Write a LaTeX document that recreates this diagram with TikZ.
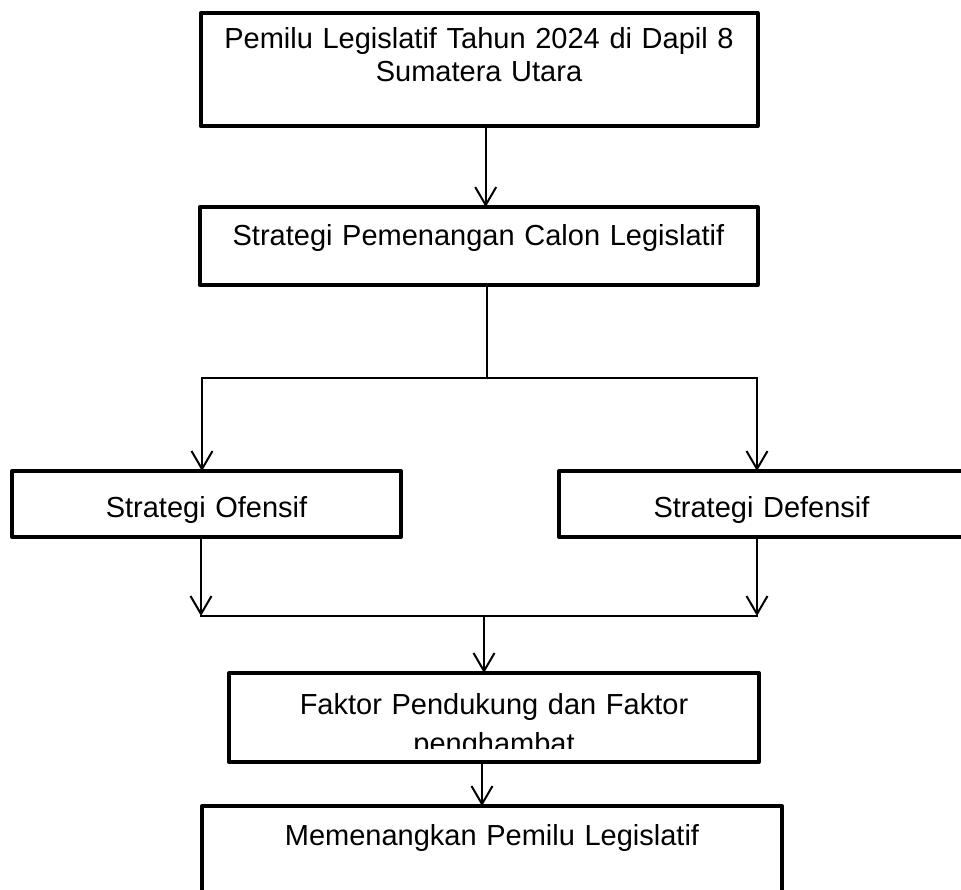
\documentclass[tikz,border=0pt]{standalone}
\usepackage{fontspec}
\setmainfont{Liberation Sans}
\usetikzlibrary{arrows.meta}

\tikzset{
  boxline/.style={draw, line width=4pt, line join=round},
  box/.style={boxline, rectangle, inner sep=0pt, outer sep=0pt, anchor=north, align=center,
    font=\fontsize{29}{33}\selectfont},
  flow/.style={line width=2pt},
  arr/.style={flow, -{Straight Barb[length=18pt,width=21pt]}},
}

\begin{document}
\begin{tikzpicture}[x=1pt, y=-1pt]
          \useasboundingbox (0,0) rectangle (961,889);
          \clip (0,0) rectangle (961,889);
          \node(lead)[box, minimum width=557pt, text width=545pt, text height=35pt, text depth=78pt] at (479,13)
            {Pemilu Legislatif Tahun 2024 di Dapil 8\\Sumatera Utara};
          \node(strat)[box, minimum width=558pt, text width=545pt, text height=38pt, text depth=40pt] at (478.5,207)
            {Strategi Pemenangan Calon Legislatif};
          \node(ofen)[box, minimum width=389pt, text width=375pt, text height=46pt, text depth=20pt] at (206.5,471)
            {Strategi Ofensif};
          \node(defen)[box, minimum width=405pt, text width=390pt, text height=46pt, text depth=20pt] at (761.5,471)
            {Strategi Defensif};
          % text of this box runs past its frame and is cut off
          \begin{scope}
            \clip (229,673) rectangle (759,748);
            \node(fak)[box, draw=none, minimum width=530pt, text width=515pt, text height=41pt, text depth=48pt,
              font=\fontsize{29}{39}\selectfont] at (494,673)
              {Faktor Pendukung dan Faktor\\penghambat};
          \end{scope}
          \draw[boxline] (fak.north west) rectangle (fak.south east);
          \node(menang)[box, minimum width=580pt, text width=565pt, text height=39pt, text depth=55pt] at (492,806)
            {Memenangkan Pemilu Legislatif};

          \coordinate (splitM) at (487,378);
          \coordinate (splitL) at (202,378);
          \coordinate (splitR) at (757,378);
          \coordinate (joinM) at (484,616);
          \coordinate (joinL) at (201,616);
          \coordinate (joinR) at (757,616);

          \path[arr] ([xshift=-1.3pt]lead.south -| splitM) edge ([xshift=-1.3pt]strat.north -| splitM);
          \draw[flow] (strat.south -| splitM) -- (splitM);
          \draw[flow, line cap=rect] (splitL) -- (splitR);
          \path[arr] (splitL) edge (splitL |- ofen.north);
          \path[arr] (splitR) edge (splitR |- defen.north);
          \path[arr] (ofen.south -| joinL) edge (joinL);
          \path[arr] (defen.south -| joinR) edge (joinR);
          \draw[flow, line cap=rect] (joinL) -- (joinR);
          \path[arr] (joinM) edge (fak.north -| joinM);
          \path[arr] ([xshift=-2pt]fak.south -| joinM) edge ([xshift=-2pt]menang.north -| joinM);
\end{tikzpicture}
\end{document}
